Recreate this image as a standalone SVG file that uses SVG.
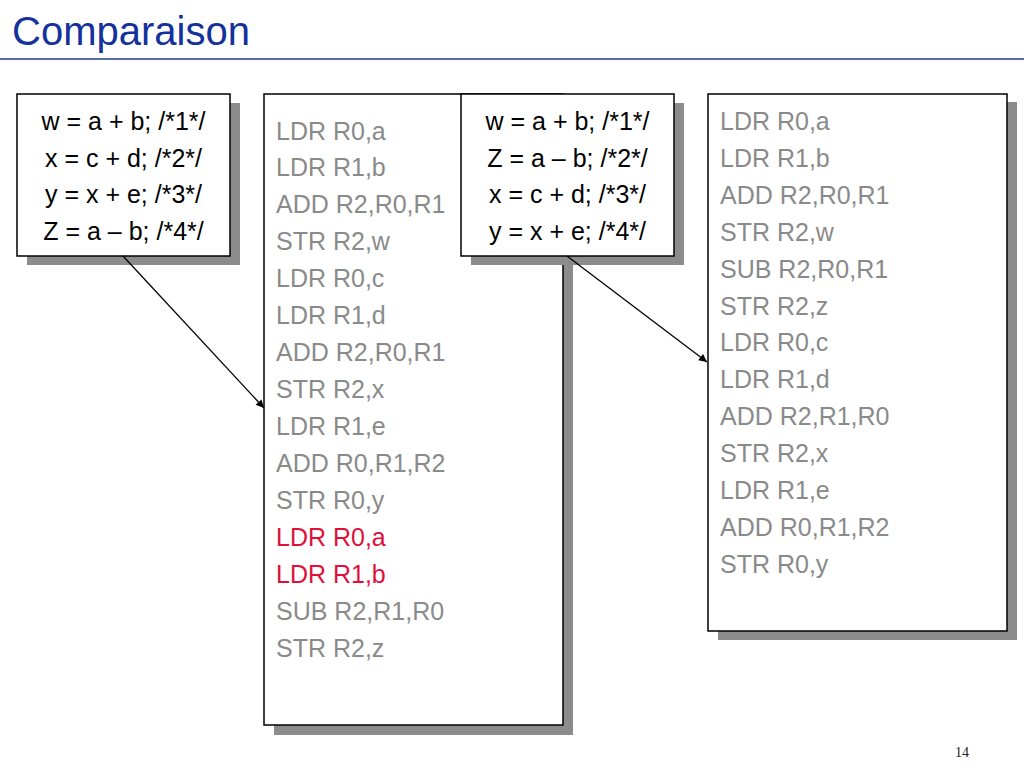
<svg xmlns="http://www.w3.org/2000/svg" width="1024" height="768" viewBox="0 0 1024 768">
<style>
.box{fill:#ffffff;stroke:#000000;stroke-width:1.5}
.sh{fill:#8c8c8c}
.code{font-family:"Liberation Sans",Arial,sans-serif;font-size:25px;fill:#000000;text-anchor:middle}
.asm{font-family:"Liberation Sans",Arial,sans-serif;font-size:25px;fill:#8a8a8a}
.red{fill:#e0103a}
.conn{stroke:#000000;stroke-width:1.3;fill:none}
</style>
<defs>
<marker id="arr" viewBox="0 0 10 10" refX="10" refY="5" markerWidth="10" markerHeight="8" markerUnits="userSpaceOnUse" orient="auto">
<path d="M0,0 L10,5 L0,10 z" fill="#000000"/>
</marker>
</defs>
<rect width="1024" height="768" fill="#ffffff"/>
<g id="title">
<text x="12" y="45" font-family="'Liberation Sans',Arial,sans-serif" font-size="40" fill="#14319c">Comparaison</text>
<line x1="0" y1="59" x2="1024" y2="59" stroke="#1f3a8f" stroke-width="1.5"/>
</g>
<g id="src1">
<rect class="sh" x="27" y="103" width="213" height="162"/>
<rect class="box" x="17" y="94" width="213" height="162"/>
<text class="code" x="123.5" y="130">w = a + b; /*1*/</text>
<text class="code" x="123.5" y="166.7">x = c + d; /*2*/</text>
<text class="code" x="123.5" y="203.3">y = x + e; /*3*/</text>
<text class="code" x="123.5" y="240">Z = a – b; /*4*/</text>
</g>
<g id="asm1">
<rect class="sh" x="274" y="103" width="299" height="632"/>
<rect class="box" x="264" y="94" width="299" height="631"/>
<text class="asm" x="276" y="139.5">LDR R0,a</text>
<text class="asm" x="276" y="176.45">LDR R1,b</text>
<text class="asm" x="276" y="213.4">ADD R2,R0,R1</text>
<text class="asm" x="276" y="250.35">STR R2,w</text>
<text class="asm" x="276" y="287.3">LDR R0,c</text>
<text class="asm" x="276" y="324.25">LDR R1,d</text>
<text class="asm" x="276" y="361.2">ADD R2,R0,R1</text>
<text class="asm" x="276" y="398.15">STR R2,x</text>
<text class="asm" x="276" y="435.1">LDR R1,e</text>
<text class="asm" x="276" y="472.05">ADD R0,R1,R2</text>
<text class="asm" x="276" y="509">STR R0,y</text>
<text class="asm red" x="276" y="545.95">LDR R0,a</text>
<text class="asm red" x="276" y="582.9">LDR R1,b</text>
<text class="asm" x="276" y="619.85">SUB R2,R1,R0</text>
<text class="asm" x="276" y="656.8">STR R2,z</text>
</g>
<g id="src2">
<rect class="sh" x="471" y="103" width="213" height="162"/>
<rect class="box" x="461" y="94" width="213" height="162"/>
<text class="code" x="567.5" y="130">w = a + b; /*1*/</text>
<text class="code" x="567.5" y="166.7">Z = a – b; /*2*/</text>
<text class="code" x="567.5" y="203.3">x = c + d; /*3*/</text>
<text class="code" x="567.5" y="240">y = x + e; /*4*/</text>
</g>
<g id="asm2">
<rect class="sh" x="718" y="102" width="299" height="538"/>
<rect class="box" x="708" y="94" width="299" height="537"/>
<text class="asm" x="720" y="130">LDR R0,a</text>
<text class="asm" x="720" y="166.9">LDR R1,b</text>
<text class="asm" x="720" y="203.8">ADD R2,R0,R1</text>
<text class="asm" x="720" y="240.7">STR R2,w</text>
<text class="asm" x="720" y="277.6">SUB R2,R0,R1</text>
<text class="asm" x="720" y="314.5">STR R2,z</text>
<text class="asm" x="720" y="351.4">LDR R0,c</text>
<text class="asm" x="720" y="388.3">LDR R1,d</text>
<text class="asm" x="720" y="425.2">ADD R2,R1,R0</text>
<text class="asm" x="720" y="462.1">STR R2,x</text>
<text class="asm" x="720" y="499">LDR R1,e</text>
<text class="asm" x="720" y="535.9">ADD R0,R1,R2</text>
<text class="asm" x="720" y="572.8">STR R0,y</text>
</g>
<g id="connectors">
<line class="conn" x1="123" y1="256" x2="264" y2="408" marker-end="url(#arr)"/>
<line class="conn" x1="567" y1="256" x2="707" y2="362" marker-end="url(#arr)"/>
</g>
<text x="955" y="757" font-family="'Liberation Serif','Times New Roman',serif" font-size="14" fill="#222222">14</text>
</svg>
